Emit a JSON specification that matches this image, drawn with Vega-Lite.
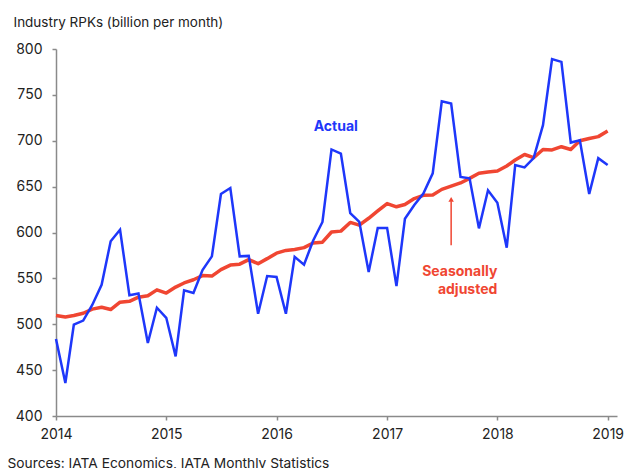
{
  "$schema": "https://vega.github.io/schema/vega-lite/v6.json",
  "autosize": {"type": "none"},
  "width": 561,
  "height": 367,
  "padding": {"left": 56, "top": 49, "right": 7, "bottom": 52},
  "background": "white",
  "config": {
    "font": "Inter",
    "view": {"stroke": null}
  },
  "datasets": {
    "rpk": [
      {"date": "2014-01-01", "actual": 484, "sa": 509.5},
      {"date": "2014-02-01", "actual": 436, "sa": 508},
      {"date": "2014-03-01", "actual": 499.5, "sa": 509.5},
      {"date": "2014-04-01", "actual": 504, "sa": 512},
      {"date": "2014-05-01", "actual": 521, "sa": 516.5},
      {"date": "2014-06-01", "actual": 543, "sa": 518.5},
      {"date": "2014-07-01", "actual": 590.5, "sa": 516},
      {"date": "2014-08-01", "actual": 603, "sa": 524},
      {"date": "2014-09-01", "actual": 531.5, "sa": 525},
      {"date": "2014-10-01", "actual": 533.5, "sa": 529.5},
      {"date": "2014-11-01", "actual": 479.5, "sa": 531},
      {"date": "2014-12-01", "actual": 518, "sa": 537.5},
      {"date": "2015-01-01", "actual": 507, "sa": 534},
      {"date": "2015-02-01", "actual": 465, "sa": 540.5},
      {"date": "2015-03-01", "actual": 537, "sa": 545},
      {"date": "2015-04-01", "actual": 534, "sa": 548.5},
      {"date": "2015-05-01", "actual": 559, "sa": 553},
      {"date": "2015-06-01", "actual": 574, "sa": 552.5},
      {"date": "2015-07-01", "actual": 642, "sa": 559.5},
      {"date": "2015-08-01", "actual": 648.5, "sa": 564.5},
      {"date": "2015-09-01", "actual": 574, "sa": 565.5},
      {"date": "2015-10-01", "actual": 574.5, "sa": 570.5},
      {"date": "2015-11-01", "actual": 511.5, "sa": 566},
      {"date": "2015-12-01", "actual": 552.5, "sa": 571.5},
      {"date": "2016-01-01", "actual": 551.5, "sa": 577.5},
      {"date": "2016-02-01", "actual": 511.5, "sa": 580.5},
      {"date": "2016-03-01", "actual": 573.5, "sa": 581.5},
      {"date": "2016-04-01", "actual": 565, "sa": 583.5},
      {"date": "2016-05-01", "actual": 591, "sa": 588.5},
      {"date": "2016-06-01", "actual": 611.5, "sa": 589.5},
      {"date": "2016-07-01", "actual": 690.5, "sa": 600.5},
      {"date": "2016-08-01", "actual": 686, "sa": 601.5},
      {"date": "2016-09-01", "actual": 621, "sa": 611},
      {"date": "2016-10-01", "actual": 611.5, "sa": 608},
      {"date": "2016-11-01", "actual": 557, "sa": 615.5},
      {"date": "2016-12-01", "actual": 605, "sa": 623.5},
      {"date": "2017-01-01", "actual": 605, "sa": 631.5},
      {"date": "2017-02-01", "actual": 541.5, "sa": 628},
      {"date": "2017-03-01", "actual": 615, "sa": 630.5},
      {"date": "2017-04-01", "actual": 630, "sa": 637},
      {"date": "2017-05-01", "actual": 642.5, "sa": 640.5},
      {"date": "2017-06-01", "actual": 664.5, "sa": 641},
      {"date": "2017-07-01", "actual": 743, "sa": 647},
      {"date": "2017-08-01", "actual": 740.5, "sa": 650.5},
      {"date": "2017-09-01", "actual": 660.5, "sa": 654},
      {"date": "2017-10-01", "actual": 659, "sa": 659},
      {"date": "2017-11-01", "actual": 604.5, "sa": 664.5},
      {"date": "2017-12-01", "actual": 646, "sa": 666},
      {"date": "2018-01-01", "actual": 632.5, "sa": 667},
      {"date": "2018-02-01", "actual": 583.5, "sa": 672.5},
      {"date": "2018-03-01", "actual": 673.5, "sa": 679},
      {"date": "2018-04-01", "actual": 671, "sa": 685},
      {"date": "2018-05-01", "actual": 681, "sa": 681.5},
      {"date": "2018-06-01", "actual": 717, "sa": 690.5},
      {"date": "2018-07-01", "actual": 789, "sa": 690},
      {"date": "2018-08-01", "actual": 786, "sa": 693.5},
      {"date": "2018-09-01", "actual": 698, "sa": 690.5},
      {"date": "2018-10-01", "actual": 700.5, "sa": 700},
      {"date": "2018-11-01", "actual": 642, "sa": 702.5},
      {"date": "2018-12-01", "actual": 681, "sa": 704.5},
      {"date": "2019-01-01", "actual": 673.5, "sa": 710.5}
    ],
    "labels": [
      {"date": "2016-07-15", "value": 715, "label": "Actual"}
    ],
    "salabel": [
      {"date": "2018-01-01", "value": 557, "label": ["Seasonally", "adjusted"]}
    ],
    "arrow": [
      {"date": "2017-08-01", "from": 586, "to": 634, "tip": 636}
    ]
  },
  "encoding": {
    "x": {
      "field": "date",
      "type": "temporal",
      "scale": {"type": "utc", "domain": ["2014-01-01", "2019-02-01"]},
      "axis": {
        "format": "%Y",
        "formatType": "utc",
        "tickCount": {"interval": "year", "step": 1},
        "grid": false,
        "domainColor": "#8a8a8a",
        "domainWidth": 1.5,
        "tickColor": "#8a8a8a",
        "tickWidth": 1.5,
        "tickSize": 4,
        "labelPadding": 7,
        "labelFontSize": 14,
        "labelColor": "#222222",
        "labelFont": "Inter",
        "labelFlush": false,
        "labelOverlap": false,
        "title": "Sources: IATA Economics, IATA Monthly Statistics",
        "titleFont": "Inter",
        "titleFontSize": 13.75,
        "titleFontWeight": "normal",
        "titleColor": "#222222",
        "titleAnchor": "start",
        "titleAlign": "left",
        "titleBaseline": "alphabetic",
        "titleX": -49,
        "titleY": 51
      }
    }
  },
  "layer": [
    {
      "data": {"name": "rpk"},
      "mark": {"type": "line", "color": "#F04632", "strokeWidth": 3.5, "strokeJoin": "round"},
      "encoding": {
        "y": {
          "field": "sa",
          "type": "quantitative",
          "scale": {"domain": [400, 800], "nice": false, "zero": false},
          "axis": {
            "values": [400, 450, 500, 550, 600, 650, 700, 750, 800],
            "grid": false,
            "domainColor": "#8a8a8a",
            "domainWidth": 1.5,
            "tickColor": "#8a8a8a",
            "tickWidth": 1.5,
            "tickSize": 4,
            "labelPadding": 10,
            "labelFontSize": 14,
            "labelColor": "#222222",
            "labelFont": "Inter",
            "labelFlush": false,
            "title": "Industry RPKs (billion per month)",
            "titleFont": "Inter",
            "titleFontSize": 13.5,
            "titleFontWeight": "normal",
            "titleColor": "#222222",
            "titleAngle": 0,
            "titleAlign": "left",
            "titleBaseline": "alphabetic",
            "titleAnchor": "start",
            "titleX": -43,
            "titleY": -22.5
          }
        }
      }
    },
    {
      "data": {"name": "rpk"},
      "mark": {"type": "line", "color": "#1E37FA", "strokeWidth": 2.5, "strokeJoin": "miter"},
      "encoding": {
        "y": {"field": "actual", "type": "quantitative"}
      }
    },
    {
      "data": {"name": "labels"},
      "mark": {"type": "text", "color": "#1E37FA", "fontWeight": "bold", "fontSize": 14, "font": "Inter", "align": "center", "baseline": "middle"},
      "encoding": {
        "y": {"field": "value", "type": "quantitative"},
        "text": {"field": "label"}
      }
    },
    {
      "data": {"name": "salabel"},
      "mark": {"type": "text", "color": "#F04632", "fontWeight": "bold", "fontSize": 14, "font": "Inter", "align": "right", "baseline": "middle", "lineHeight": 18},
      "encoding": {
        "y": {"field": "value", "type": "quantitative"},
        "text": {"field": "label"}
      }
    },
    {
      "data": {"name": "arrow"},
      "mark": {"type": "rule", "color": "#F04632", "strokeWidth": 1.5},
      "encoding": {
        "y": {"field": "from", "type": "quantitative"},
        "y2": {"field": "to"}
      }
    },
    {
      "data": {"name": "arrow"},
      "mark": {"type": "point", "shape": "triangle-up", "filled": true, "color": "#F04632", "size": 30, "opacity": 1},
      "encoding": {
        "y": {"field": "tip", "type": "quantitative"}
      }
    }
  ]
}
